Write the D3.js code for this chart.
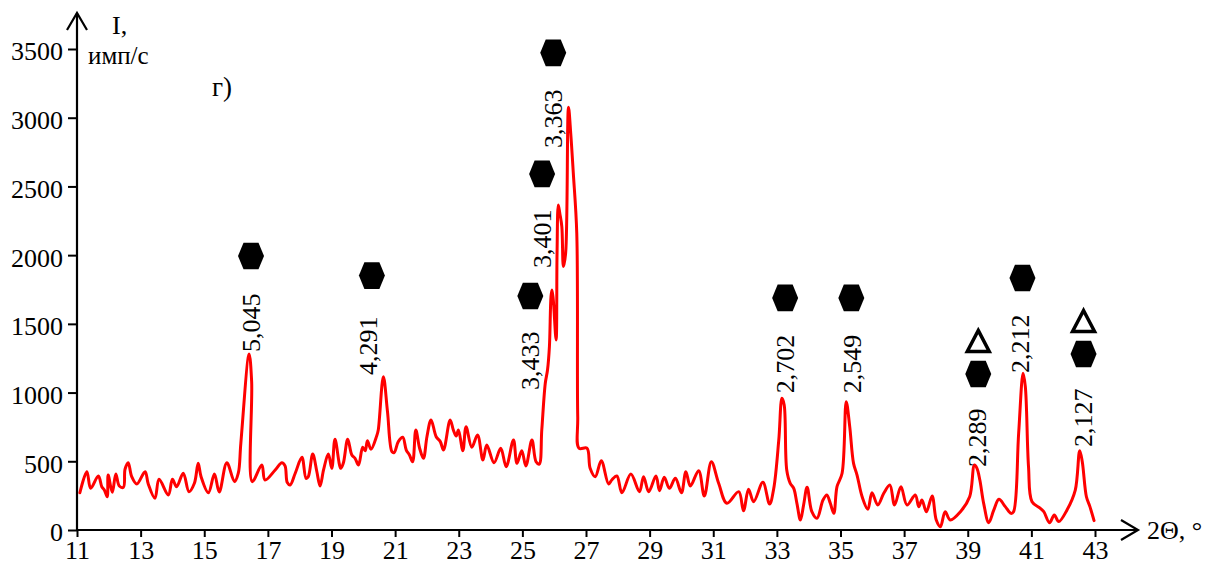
<!DOCTYPE html>
<html>
<head>
<meta charset="utf-8">
<script src="https://cdn.jsdelivr.net/npm/d3@7"></script>
<style>
  html, body { margin: 0; padding: 0; background: #fff; }
  svg { display: block; }
  text { font-family: "Liberation Serif", "Times New Roman", serif; fill: #000; }
</style>
</head>
<body>
<svg id="chart" width="1207" height="565"></svg>
<script>
// Diffraction pattern: 2θ (degrees) and intensity (counts per second)
const theta = [
  11.09, 11.31, 11.43, 11.67, 11.78, 11.86, 11.95, 11.98, 12.11, 12.22,
  12.33, 12.46, 12.51, 12.61, 12.72, 12.88, 13.14, 13.24, 13.45, 13.58,
  13.87, 14.00, 14.13, 14.34, 14.52, 14.69, 14.81, 14.90, 15.13, 15.32,
  15.47, 15.71, 15.95, 16.07, 16.15, 16.41, 16.49, 16.51, 16.81, 16.91,
  17.23, 17.44, 17.54, 17.61, 17.70, 17.86, 18.07, 18.20, 18.27, 18.41,
  18.54, 18.64, 18.75, 18.90, 19.01, 19.11, 19.29, 19.37, 19.51, 19.64,
  19.74, 19.85, 19.98, 20.06, 20.13, 20.24, 20.42, 20.47, 20.63, 20.76,
  20.90, 20.97, 21.10, 21.24, 21.35, 21.45, 21.55, 21.65, 21.77, 21.89,
  22.00, 22.13, 22.29, 22.42, 22.52, 22.73, 22.83, 22.92, 22.99, 23.13,
  23.23, 23.41, 23.59, 23.76, 23.88, 24.11, 24.32, 24.49, 24.72, 24.83,
  24.98, 25.11, 25.30, 25.43, 25.53, 25.61, 25.72, 25.79, 25.85, 25.90,
  25.93, 25.97, 26.06, 26.09, 26.13, 26.18, 26.24, 26.29, 26.36, 26.45,
  26.52, 26.60, 26.71, 26.74, 26.78, 27.03, 27.13, 27.29, 27.48, 27.71,
  27.81, 27.97, 28.13, 28.41, 28.68, 28.81, 28.97, 29.20, 29.31, 29.46,
  29.62, 29.81, 30.00, 30.14, 30.28, 30.54, 30.72, 30.94, 31.17, 31.43,
  31.80, 31.95, 32.11, 32.27, 32.56, 32.77, 32.90, 33.06, 33.16, 33.23,
  33.31, 33.42, 33.53, 33.63, 33.74, 33.84, 33.95, 34.10, 34.26, 34.45,
  34.57, 34.68, 34.79, 34.89, 35.05, 35.18, 35.29, 35.41, 35.52, 35.68,
  35.86, 35.99, 36.17, 36.36, 36.55, 36.70, 36.90, 37.09, 37.35, 37.46,
  37.56, 37.70, 37.88, 38.01, 38.14, 38.29, 38.45, 38.77, 39.06, 39.21,
  39.29, 39.38, 39.50, 39.66, 39.82, 39.98, 40.18, 40.36, 40.44, 40.60,
  40.74, 40.81, 40.91, 41.02, 41.28, 41.39, 41.57, 41.72, 41.86, 42.12,
  42.38, 42.52, 42.60, 42.73, 42.84, 42.97
];
const intensity = [
  271, 424, 303, 393, 315, 291, 242, 400, 274, 407,
  320, 311, 442, 490, 388, 335, 424, 335, 231, 369,
  255, 369, 315, 413, 279, 340, 485, 388, 271, 407,
  276, 490, 352, 413, 631, 1281, 1079, 352, 473, 364,
  437, 490, 466, 345, 328, 413, 529, 376, 388, 553,
  424, 320, 437, 553, 449, 660, 449, 485, 660, 546,
  522, 473, 602, 577, 650, 587, 684, 728, 1116, 861,
  570, 563, 643, 675, 582, 546, 497, 728, 595, 522,
  679, 801, 679, 643, 582, 801, 728, 684, 728, 577,
  752, 602, 691, 509, 619, 490, 595, 461, 655, 485,
  577, 466, 655, 497, 480, 728, 1068, 1164, 1334, 1700,
  1747, 1680, 1383, 2014, 2365, 2300, 2208, 1917, 2014, 3076,
  2887, 2600, 2159, 825, 595, 595, 449, 388, 504, 335,
  364, 393, 271, 407, 279, 388, 279, 393, 286, 384,
  303, 376, 271, 424, 320, 432, 247, 497, 340, 194,
  279, 140, 296, 206, 347, 189, 300, 655, 958, 910,
  437, 340, 303, 194, 73, 182, 311, 133, 85, 218,
  255, 194, 121, 315, 413, 934, 752, 485, 400, 242,
  151, 271, 182, 267, 328, 182, 315, 182, 255, 170,
  218, 133, 247, 73, 24, 133, 73, 133, 242, 473,
  449, 364, 194, 53, 146, 223, 170, 121, 133, 704,
  1140, 1043, 461, 206, 158, 133, 53, 109, 61, 146,
  291, 577, 497, 242, 170, 68
];

// Axis ticks
const xTicks = [11, 13, 15, 17, 19, 21, 23, 25, 27, 29, 31, 33, 35, 37, 39, 41, 43];
const yTicks = [0, 500, 1000, 1500, 2000, 2500, 3000, 3500];

// Interplanar spacings written above the reflections (anchored at text start)
const peakLabels = ["5,045", "4,291", "3,433", "3,401", "3,363", "2,702", "2,549", "2,289", "2,212", "2,127"];
const labelTheta = [16.47, 20.15, 25.25, 25.62, 25.97, 33.26, 35.36, 39.30, 40.65, 42.62];
const labelBase  = [1295, 1128, 1019, 1907, 2780, 995, 995, 459, 1143, 604];

// Phase markers: filled hexagons and open triangles
const hexTheta = [16.47, 20.27, 25.25, 25.62, 25.97, 33.26, 35.34, 39.33, 40.72, 42.64];
const hexLevel = [1994, 1851, 1703, 2591, 3472, 1689, 1689, 1135, 1834, 1281];
const triTheta = [39.33, 42.64];
const triLevel = [1376, 1521];

const svg = d3.select("#chart");

const x = d3.scaleLinear().domain([11, 43]).range([77, 1095]);
const y = d3.scaleLinear().domain([0, 3500]).range([530, 49]);

// Axes
const xAxis = d3.axisBottom(x).tickValues(xTicks).tickSize(7).tickSizeOuter(0).tickFormat(d3.format("d"));
const yAxis = d3.axisLeft(y).tickValues(yTicks).tickSize(9).tickSizeOuter(0).tickFormat(d3.format("d"));

const gx = svg.append("g").attr("transform", `translate(0,${y(0)})`).call(xAxis);
gx.select(".domain").remove();
gx.selectAll(".tick line").attr("stroke", "#000").attr("stroke-width", 2);
gx.selectAll(".tick text")
  .attr("font-size", 26).attr("font-family", "Liberation Serif, serif")
  .attr("dy", null).attr("y", 29);

const gy = svg.append("g").attr("transform", `translate(${x(11)},0)`).call(yAxis);
gy.select(".domain").remove();
gy.selectAll(".tick line").attr("stroke", "#000").attr("stroke-width", 2);
gy.selectAll(".tick text")
  .attr("font-size", 26).attr("font-family", "Liberation Serif, serif")
  .attr("x", -14).attr("dy", "0.42em");

// Axis lines with open arrowheads
const axisPath = svg.append("g").attr("fill", "none").attr("stroke", "#000").attr("stroke-width", 2.2);
const x0 = x(11), y0 = y(0);
const xEnd = 1138, yEnd = 13;
axisPath.append("line").attr("x1", x0).attr("y1", y0).attr("x2", xEnd).attr("y2", y0);
axisPath.append("line").attr("x1", x0).attr("y1", y0 + 1).attr("x2", x0).attr("y2", yEnd);
axisPath.append("polyline").attr("points", `${xEnd - 17},${y0 - 10} ${xEnd},${y0} ${xEnd - 17},${y0 + 10}`);
axisPath.append("polyline").attr("points", `${x0 - 10},${yEnd + 17} ${x0},${yEnd} ${x0 + 10},${yEnd + 17}`);

// Axis titles and panel letter
svg.append("text").attr("x", 112).attr("y", 34).attr("font-size", 26).text("I,");
svg.append("text").attr("x", 88).attr("y", 64).attr("font-size", 25).text("имп/с");
svg.append("text").attr("x", 212).attr("y", 96).attr("font-size", 27).text("г)");
svg.append("text").attr("x", 1147).attr("y", 539).attr("font-size", 26).text("2Θ, °");

// Pattern curve
const points = theta.map((t, i) => [t, intensity[i]]);
svg.append("path")
  .datum(points)
  .attr("fill", "none")
  .attr("stroke", "#ff0000")
  .attr("stroke-width", 3)
  .attr("stroke-linejoin", "round")
  .attr("stroke-linecap", "round")
  .attr("d", d3.line().curve(d3.curveCatmullRom.alpha(0.5)).x(d => x(d[0])).y(d => y(d[1])));

// d-spacing labels, vertical
svg.append("g").selectAll("text")
  .data(peakLabels)
  .join("text")
  .attr("transform", (d, i) => `translate(${x(labelTheta[i])},${y(labelBase[i])}) rotate(-90)`)
  .attr("dy", "0.35em")
  .attr("font-size", 26)
  .text(d => d);

// Hexagon markers
const hexShape = [[-13, 0], [-7.5, -13.3], [7.5, -13.3], [13, 0], [7.5, 13.3], [-7.5, 13.3]];
svg.append("g").selectAll("polygon")
  .data(hexTheta)
  .join("polygon")
  .attr("points", hexShape.map(p => p.join(",")).join(" "))
  .attr("transform", (d, i) => `translate(${x(d)},${y(hexLevel[i])})`)
  .attr("fill", "#000");

// Triangle markers
const triShape = [[0, -10.5], [11, 10.5], [-11, 10.5]];
svg.append("g").selectAll("polygon")
  .data(triTheta)
  .join("polygon")
  .attr("points", triShape.map(p => p.join(",")).join(" "))
  .attr("transform", (d, i) => `translate(${x(d)},${y(triLevel[i])})`)
  .attr("fill", "#fff")
  .attr("stroke", "#000")
  .attr("stroke-width", 3.5)
  .attr("stroke-linejoin", "miter");
</script>
</body>
</html>
